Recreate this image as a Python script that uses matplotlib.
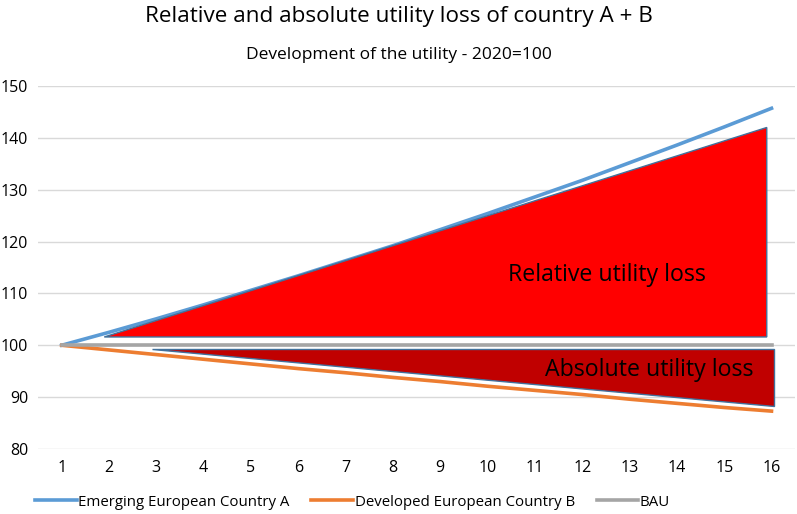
import matplotlib
matplotlib.use("Agg")
import matplotlib.pyplot as plt
from matplotlib.patches import Polygon

plt.rcParams['font.family'] = ['Open Sans', 'DejaVu Sans']

years = list(range(1, 17))
country_a = [100, 102.5, 105.1, 107.8, 110.6, 113.4, 116.3, 119.2, 122.3, 125.4, 128.6, 131.8, 135.2, 138.6, 142.1, 145.7]
country_b = [100, 99.1, 98.2, 97.3, 96.4, 95.5, 94.7, 93.8, 93.0, 92.1, 91.3, 90.5, 89.6, 88.8, 88.0, 87.3]
bau = [100] * 16

rel_x = [1.9, 15.9, 15.9]
rel_y = [101.6, 142.0, 101.6]
abs_x = [2.9, 16.05, 16.05]
abs_y = [99.3, 99.3, 88.3]

fig = plt.figure(figsize=(7.97, 5.14), dpi=100)
ax = fig.add_axes([0.0477, 0.1265, 0.95, 0.7062])

ax.set_xlim(0.5, 16.5)
ax.set_ylim(80, 150)
ax.set_yticks(range(80, 151, 10))
ax.set_xticks(years)
ax.grid(axis='y', color='#D9D9D9', linewidth=1)
ax.set_axisbelow(True)
for s in ax.spines.values():
    s.set_visible(False)
ax.tick_params(axis='both', length=0, labelsize=11.5, colors='#000000')
ax.tick_params(axis='y', pad=7)
ax.tick_params(axis='x', pad=8)

ax.plot(years, country_a, color='#5B9BD5', lw=2.6, label='Emerging European Country A', zorder=3)
ax.plot(years, country_b, color='#ED7D31', lw=2.6, label='Developed European Country B', zorder=3)
ax.plot(years, bau, color='#A5A5A5', lw=2.6, label='BAU', zorder=3)

ax.add_patch(Polygon(list(zip(rel_x, rel_y)), closed=True, facecolor='#FF0000',
                     edgecolor='#41719C', lw=1.0, zorder=4))
ax.add_patch(Polygon(list(zip(abs_x, abs_y)), closed=True, facecolor='#C00000',
                     edgecolor='#41719C', lw=1.0, zorder=4))

ax.text(12.53, 113.6, 'Relative utility loss', fontsize=16.7, ha='center', va='center', zorder=5)
ax.text(13.42, 95.3, 'Absolute utility loss', fontsize=16.7, ha='center', va='center', zorder=5)

fig.text(0.5, 0.968, 'Relative and absolute utility loss of country A + B', fontsize=16.2,
         ha='center', va='center')
fig.text(0.5, 0.893, 'Development of the utility - 2020=100', fontsize=12.5,
         ha='center', va='center')

fig.legend(loc='center left', bbox_to_anchor=(35 / 797, 1 - 502 / 514), ncol=3, frameon=False,
           fontsize=10.8, handlelength=2.78, handletextpad=0.1, columnspacing=1.45,
           borderpad=0, borderaxespad=0)

fig.savefig('out.png', dpi=100)
